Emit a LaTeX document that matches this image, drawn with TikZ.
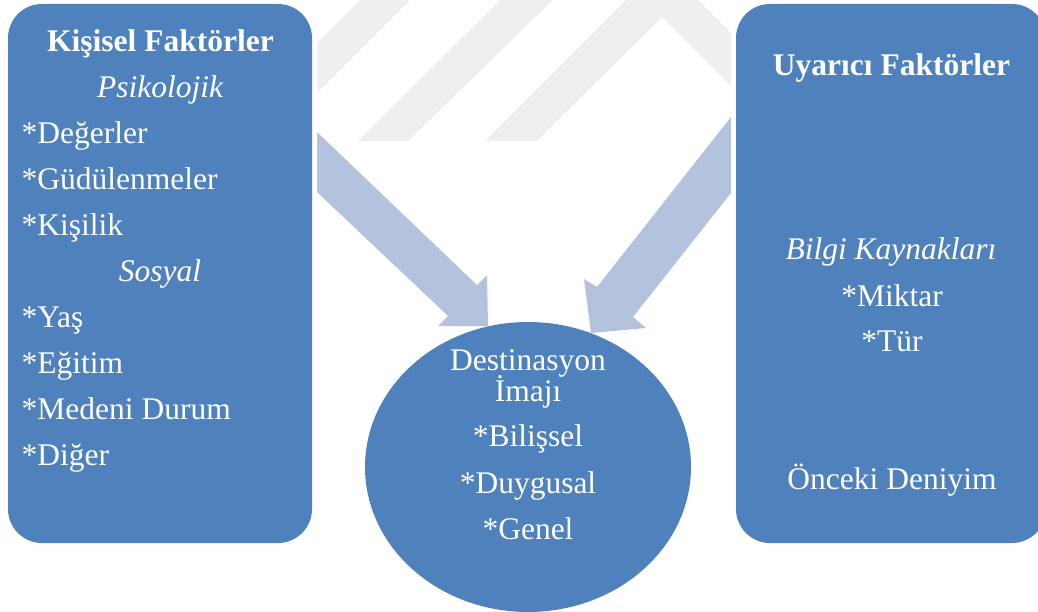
\documentclass[tikz,border=0pt]{standalone}
\usepackage{fontspec}
\setmainfont{Liberation Serif}
\usetikzlibrary{shapes.geometric}
\definecolor{boxblue}{HTML}{4F81BD}
\definecolor{arrowblue}{HTML}{B3C2DD}
\definecolor{markgray}{HTML}{EFEFEF}
\begin{document}
\begin{tikzpicture}[x=1pt,y=-1pt,
  panel/.style={fill=boxblue, rounded corners=34pt, inner sep=0pt,
    preaction={draw=white, line width=10pt}},
  blockarrow/.style={fill=arrowblue},
  stripe/.style={fill=markgray},
  txt/.style={text=white, inner sep=0pt, anchor=base,
    font=\fontsize{31.5}{46}\selectfont},
  txtl/.style={txt, anchor=base west},
  head/.style={txt, font=\fontsize{31.5}{46}\selectfont\bfseries},
  sub/.style={txt, font=\fontsize{31.5}{46}\selectfont\itshape}
]
\clip (0,0) rectangle (1038,612);
\useasboundingbox (0,0) rectangle (1038,612);

% light background stripes
\fill[stripe] (300,60) -- (360,0) -- (410,0) -- (300,110) -- cycle;
\fill[stripe] (358,141) -- (500,0) -- (553,0) -- (408,141) -- cycle;
\fill[stripe] (485,141) -- (626,0) -- (698,0) -- (760,62) -- (760,115)
  -- (662,17) -- (537,141) -- cycle;

% block arrows towards the image
\coordinate (la-tip) at (488,326);
\coordinate (ra-tip) at (591,333);
\fill[blockarrow] (250,68) -- (477,285) -- (487,275) -- (la-tip)
  -- (438,326) -- (448,316) -- (250,128.6) -- cycle;
\fill[blockarrow] (800,29.4) -- (597,287) -- (584,279) -- (ra-tip)
  -- (646,328) -- (633,317) -- (800,105.7) -- cycle;

% panels
\node[panel, minimum width=304pt, minimum height=539pt] (kisisel) at (160,273.5) {};
\node[panel, minimum width=310pt, minimum height=539pt] (uyarici) at (891,273.5) {};
\node[ellipse, fill=boxblue, inner sep=0pt, minimum width=326pt,
  minimum height=290pt] (imaj) at (528,467) {};

% personal factors
\node[head] (k1) at (160.5,51.7) {Kişisel Faktörler};
\node[sub]  (k2) at (160,97.7) {Psikolojik};
\node[txtl] (k3) at (21.5,143.7) {*Değerler};
\node[txtl] (k4) at (21.5,189.7) {*Güdülenmeler};
\node[txtl] (k5) at (21.5,235.7) {*Kişilik};
\node[sub]  (k6) at (160,281.7) {Sosyal};
\node[txtl] (k7) at (21.5,327.7) {*Yaş};
\node[txtl] (k8) at (21.5,373.7) {*Eğitim};
\node[txtl] (k9) at (21.5,419.7) {*Medeni Durum};
\node[txtl] (k10) at (21.5,465.7) {*Diğer};

% stimulus factors
\node[head] (u1) at (891.5,76) {Uyarıcı Faktörler};
\node[sub]  (u2) at (891,259) {Bilgi Kaynakları};
\node[txt]  (u3) at (892,306) {*Miktar};
\node[txt]  (u4) at (892,351.7) {*Tür};
\node[txt]  (u5) at (892,489.3) {Önceki Deniyim};

% destination image
\node[txt] (i1) at (528,370) {Destinasyon};
\node[txt] (i2) at (528,401) {İmajı};
\node[txt] (i3) at (528,446.7) {*Bilişsel};
\node[txt] (i4) at (528,493.3) {*Duygusal};
\node[txt] (i5) at (528,539.3) {*Genel};
\end{tikzpicture}
\end{document}
